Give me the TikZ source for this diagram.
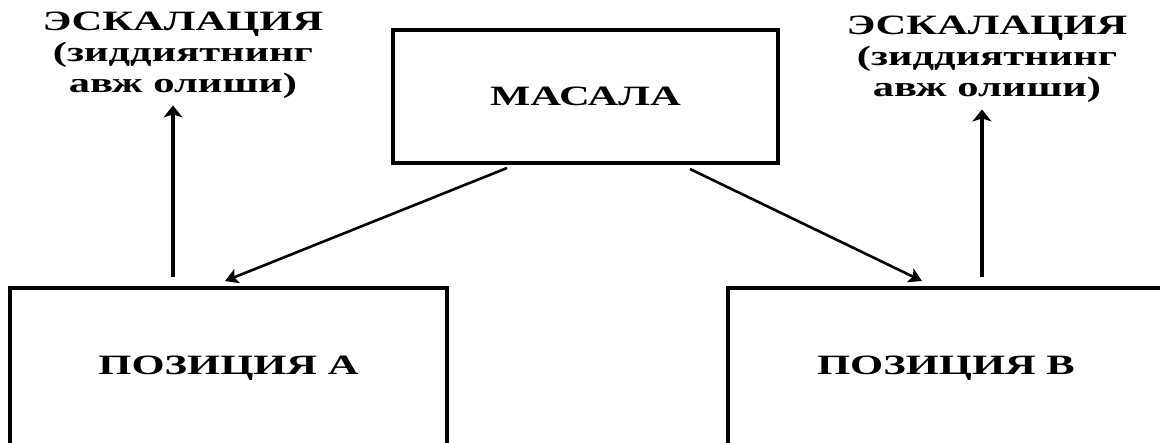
\documentclass[tikz,border=0pt]{standalone}
\usepackage{fontspec}
\setmainfont{Liberation Serif}[FakeStretch=1.52]
\usetikzlibrary{arrows.meta,calc}
\begin{document}
\begin{tikzpicture}[x=1pt,y=-1pt,
  box/.style={draw, line width=3.6pt, inner sep=0pt, outer sep=0pt,
    font=\fontsize{28}{30}\selectfont\bfseries},
  lbl/.style={align=center, inner sep=0pt,
    font=\fontsize{28}{31}\selectfont\bfseries},
  arr/.style={line width=3.2pt, -{Stealth[length=12pt,width=19pt,inset=3pt]}},
  darr/.style={line width=2.6pt, -{Stealth[length=13pt,width=15pt,inset=3pt]}}]
\clip (0,0) rectangle (1160,443);
\fill[white] (0,0) rectangle (1160,443);
\node[box, minimum width=385pt, minimum height=133pt] (m) at (585.5,96.5) {МАСАЛА};
\node[box, minimum width=437pt, minimum height=160pt] (a) at (228.5,368) {ПОЗИЦИЯ А};
\node[box, minimum width=436pt, minimum height=160pt] (b) at (946,368) {ПОЗИЦИЯ В};
\node[lbl] (el) at (183,55) {ЭСКАЛАЦИЯ\\(зиддиятнинг\\авж олиши)};
\node[lbl] (er) at (987,59) {ЭСКАЛАЦИЯ\\(зиддиятнинг\\авж олиши)};
\draw[arr] ($(a.north west)+(163,-11)$) -- ($(el.south)+(-10,7)$);
\draw[arr] ($(b.north west)+(254,-11)$) -- ($(er.south)+(-5,7)$);
\draw[darr] ($(m.south west)+(114,5)$) -- ($(a.north west)+(215,-7)$);
\draw[darr] ($(m.south west)+(297,6)$) -- ($(b.north west)+(194,-7)$);
\end{tikzpicture}
\end{document}
